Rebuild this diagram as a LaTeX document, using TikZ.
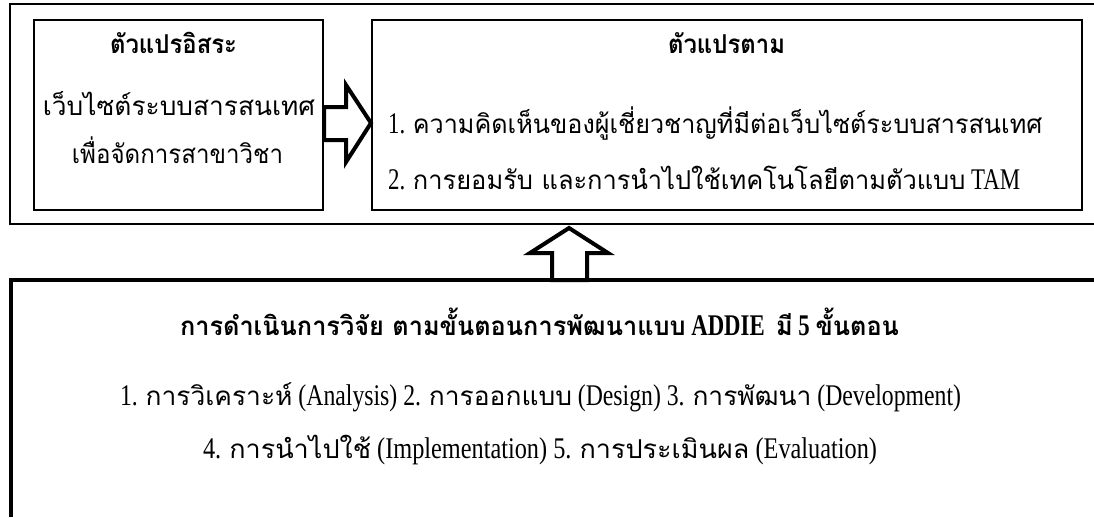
\documentclass[tikz,border=0pt]{standalone}
\usepackage{graphicx}
\usepackage{fontspec}
\setmainfont{Liberation Serif}[FakeStretch=0.78]
\newfontfamily\thaifont[Script=Thai]{Loma}
\newcommand\tf[1]{{\thaifont\fontsize{26}{30}\selectfont #1}}
\newsavebox\fitbox
\newcommand\fitw[2]{\sbox\fitbox{#2}\resizebox{#1}{\ht\fitbox}{\usebox\fitbox}}
\tikzset{
  box/.style={draw=black, line width=2pt, inner sep=0pt},
  blockarrow/.style={draw=black, line width=4pt, line join=miter, fill=white},
  txt/.style={inner sep=0pt, font=\fontsize{30}{34}\selectfont},
  ttl/.style={inner sep=0pt, font=\fontsize{30}{34}\selectfont\bfseries},
}
\begin{document}
\begin{tikzpicture}[x=1pt,y=-1pt]
\useasboundingbox (0,0) rectangle (1094,517);
\fill[white] (0,0) rectangle (1094,517);
% outer top frame (open on the right)
\draw[line width=2pt] (1094,4) -- (10,4) -- (10,224) -- (1094,224);
% bottom frame (open on right and bottom)
\draw[line width=4pt] (1094,280) -- (11,280) -- (11,517);
% inner boxes
\node[box, minimum width=289pt, minimum height=190pt] (lb) at (178.5,115) {};
\node[box, minimum width=710pt, minimum height=190pt] (rb) at (727,115) {};
% texts left
\node[ttl] (lt) at (173.5,43) {\fitw{127pt}{\tf{ตัวแปรอิสระ}}};
\node[txt] (l1) at (179,104) {\fitw{272pt}{\tf{เว็บไซต์ระบบสารสนเทศ}}};
\node[txt] (l2) at (177.5,150) {\fitw{211pt}{\tf{เพื่อจัดการสาขาวิชา}}};
% texts right
\node[ttl] (rt) at (726.5,43) {\fitw{117pt}{\tf{ตัวแปรตาม}}};
\node[txt, anchor=west] (r1) at (388,124) {\fitw{654pt}{1. \tf{ความคิดเห็นของผู้เชี่ยวชาญที่มีต่อเว็บไซต์ระบบสารสนเทศ}}};
\node[txt, anchor=west] (r2) at (388,178) {\fitw{632pt}{2. \tf{การยอมรับ และการนำไปใช้เทคโนโลยีตามตัวแบบ} TAM}};
% bottom texts
\node[ttl] (bt) at (539.5,322) {\fitw{719pt}{\tf{การดำเนินการวิจัย ตามขั้นตอนการพัฒนาแบบ} ADDIE\ \ \tf{มี} 5 \tf{ขั้นตอน}}};
\node[txt] (b1) at (540.5,397) {\fitw{841pt}{1. \tf{การวิเคราะห์} (Analysis) 2. \tf{การออกแบบ} (Design) 3. \tf{การพัฒนา} (Development)}};
\node[txt] (b2) at (540,450) {\fitw{674pt}{4. \tf{การนำไปใช้} (Implementation) 5. \tf{การประเมินผล} (Evaluation)}};
% right block arrow between the boxes
\draw[blockarrow] (lb.east |- 0,107) -- (346,107) -- (346,85) -- (rb.west |- 0,123)
  -- (346,162) -- (346,140) -- (lb.east |- 0,140) -- cycle;
% up block arrow
\draw[blockarrow] (552,280) -- (552,253) -- (530,253) -- (569,228) -- (608,253)
  -- (587,253) -- (587,280) -- cycle;
\end{tikzpicture}
\end{document}
